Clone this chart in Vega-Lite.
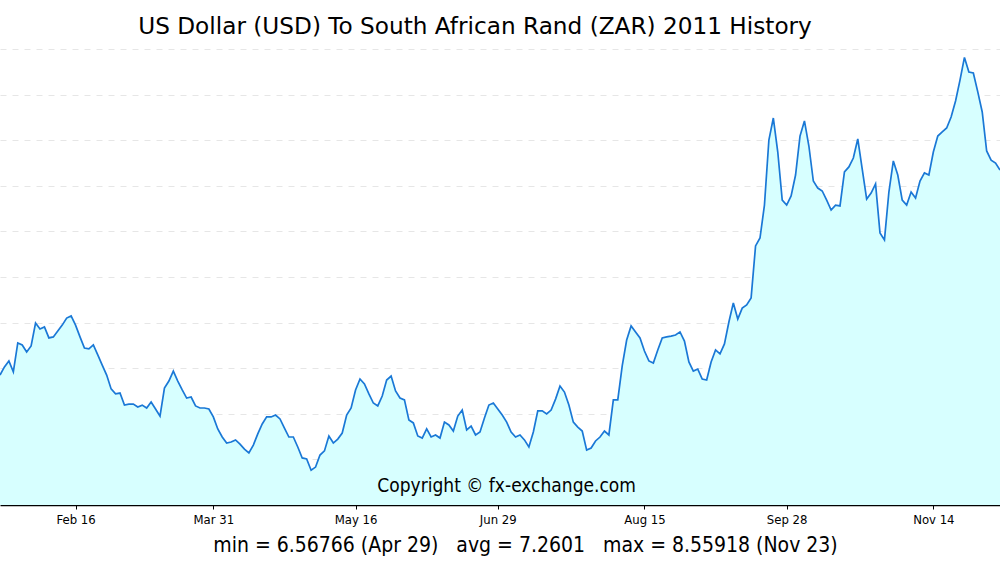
{
  "$schema": "https://vega.github.io/schema/vega-lite/v6.json",
  "autosize": {"type": "none"},
  "width": 1000,
  "height": 456,
  "padding": {"left": 0, "right": 0, "top": 49, "bottom": 57},
  "background": "white",
  "config": {"view": {"stroke": null}},
  "title": {
    "text": "US Dollar (USD) To South African Rand (ZAR) 2011 History",
    "font": "DejaVu Sans",
    "fontSize": 23.2,
    "fontWeight": "normal",
    "color": "#000000",
    "anchor": "middle",
    "dx": -25,
    "offset": 10
  },
  "datasets": {
    "rates": [
      {"d":"2011-01-24","v":7.027},{"d":"2011-01-25","v":7.066},{"d":"2011-01-26","v":7.095},{"d":"2011-01-27","v":7.042},{"d":"2011-01-28","v":7.182},
      {"d":"2011-01-31","v":7.172},{"d":"2011-02-01","v":7.138},{"d":"2011-02-02","v":7.167},{"d":"2011-02-03","v":7.278},{"d":"2011-02-04","v":7.249},
      {"d":"2011-02-07","v":7.259},{"d":"2011-02-08","v":7.206},{"d":"2011-02-09","v":7.211},{"d":"2011-02-10","v":7.239},{"d":"2011-02-11","v":7.268},
      {"d":"2011-02-14","v":7.302},{"d":"2011-02-15","v":7.312},{"d":"2011-02-16","v":7.268},{"d":"2011-02-17","v":7.211},{"d":"2011-02-18","v":7.157},
      {"d":"2011-02-21","v":7.153},{"d":"2011-02-22","v":7.172},{"d":"2011-02-23","v":7.124},{"d":"2011-02-24","v":7.075},{"d":"2011-02-25","v":7.027},
      {"d":"2011-02-28","v":6.960},{"d":"2011-03-01","v":6.936},{"d":"2011-03-02","v":6.940},{"d":"2011-03-03","v":6.882},{"d":"2011-03-04","v":6.887},
      {"d":"2011-03-07","v":6.887},{"d":"2011-03-08","v":6.873},{"d":"2011-03-09","v":6.882},{"d":"2011-03-10","v":6.868},{"d":"2011-03-11","v":6.897},
      {"d":"2011-03-14","v":6.863},{"d":"2011-03-15","v":6.829},{"d":"2011-03-16","v":6.964},{"d":"2011-03-17","v":6.998},{"d":"2011-03-18","v":7.046},
      {"d":"2011-03-21","v":6.998},{"d":"2011-03-22","v":6.955},{"d":"2011-03-23","v":6.916},{"d":"2011-03-24","v":6.921},{"d":"2011-03-25","v":6.878},
      {"d":"2011-03-28","v":6.868},{"d":"2011-03-29","v":6.868},{"d":"2011-03-30","v":6.863},{"d":"2011-03-31","v":6.825},{"d":"2011-04-01","v":6.767},
      {"d":"2011-04-04","v":6.728},{"d":"2011-04-05","v":6.699},{"d":"2011-04-06","v":6.704},{"d":"2011-04-07","v":6.714},{"d":"2011-04-08","v":6.694},
      {"d":"2011-04-11","v":6.670},{"d":"2011-04-12","v":6.651},{"d":"2011-04-13","v":6.689},{"d":"2011-04-14","v":6.743},{"d":"2011-04-15","v":6.791},
      {"d":"2011-04-18","v":6.825},{"d":"2011-04-19","v":6.825},{"d":"2011-04-20","v":6.834},{"d":"2011-04-21","v":6.815},{"d":"2011-04-22","v":6.771},
      {"d":"2011-04-25","v":6.728},{"d":"2011-04-26","v":6.728},{"d":"2011-04-27","v":6.680},{"d":"2011-04-28","v":6.627},{"d":"2011-04-29","v":6.622},
      {"d":"2011-05-02","v":6.56766},{"d":"2011-05-03","v":6.583},{"d":"2011-05-04","v":6.641},{"d":"2011-05-05","v":6.661},{"d":"2011-05-06","v":6.733},
      {"d":"2011-05-09","v":6.699},{"d":"2011-05-10","v":6.718},{"d":"2011-05-11","v":6.747},{"d":"2011-05-12","v":6.834},{"d":"2011-05-13","v":6.868},
      {"d":"2011-05-16","v":6.955},{"d":"2011-05-17","v":7.008},{"d":"2011-05-18","v":6.984},{"d":"2011-05-19","v":6.936},{"d":"2011-05-20","v":6.892},
      {"d":"2011-05-23","v":6.878},{"d":"2011-05-24","v":6.926},{"d":"2011-05-25","v":7.003},{"d":"2011-05-26","v":7.022},{"d":"2011-05-27","v":6.950},
      {"d":"2011-05-30","v":6.916},{"d":"2011-05-31","v":6.907},{"d":"2011-06-01","v":6.810},{"d":"2011-06-02","v":6.796},{"d":"2011-06-03","v":6.733},
      {"d":"2011-06-06","v":6.723},{"d":"2011-06-07","v":6.767},{"d":"2011-06-08","v":6.728},{"d":"2011-06-09","v":6.738},{"d":"2011-06-10","v":6.723},
      {"d":"2011-06-13","v":6.800},{"d":"2011-06-14","v":6.786},{"d":"2011-06-15","v":6.757},{"d":"2011-06-16","v":6.829},{"d":"2011-06-17","v":6.858},
      {"d":"2011-06-20","v":6.762},{"d":"2011-06-21","v":6.781},{"d":"2011-06-22","v":6.738},{"d":"2011-06-23","v":6.752},{"d":"2011-06-24","v":6.820},
      {"d":"2011-06-27","v":6.882},{"d":"2011-06-28","v":6.892},{"d":"2011-06-29","v":6.863},{"d":"2011-06-30","v":6.834},{"d":"2011-07-01","v":6.800},
      {"d":"2011-07-04","v":6.752},{"d":"2011-07-05","v":6.728},{"d":"2011-07-06","v":6.738},{"d":"2011-07-07","v":6.714},{"d":"2011-07-08","v":6.680},
      {"d":"2011-07-11","v":6.752},{"d":"2011-07-12","v":6.854},{"d":"2011-07-13","v":6.854},{"d":"2011-07-14","v":6.839},{"d":"2011-07-15","v":6.858},
      {"d":"2011-07-18","v":6.911},{"d":"2011-07-19","v":6.974},{"d":"2011-07-20","v":6.945},{"d":"2011-07-21","v":6.882},{"d":"2011-07-22","v":6.800},
      {"d":"2011-07-25","v":6.776},{"d":"2011-07-26","v":6.757},{"d":"2011-07-27","v":6.665},{"d":"2011-07-28","v":6.675},{"d":"2011-07-29","v":6.709},
      {"d":"2011-08-01","v":6.728},{"d":"2011-08-02","v":6.757},{"d":"2011-08-03","v":6.738},{"d":"2011-08-04","v":6.907},{"d":"2011-08-05","v":6.907},
      {"d":"2011-08-08","v":7.071},{"d":"2011-08-09","v":7.196},{"d":"2011-08-10","v":7.264},{"d":"2011-08-11","v":7.235},{"d":"2011-08-12","v":7.206},
      {"d":"2011-08-15","v":7.143},{"d":"2011-08-16","v":7.095},{"d":"2011-08-17","v":7.085},{"d":"2011-08-18","v":7.148},{"d":"2011-08-19","v":7.206},
      {"d":"2011-08-22","v":7.211},{"d":"2011-08-23","v":7.215},{"d":"2011-08-24","v":7.220},{"d":"2011-08-25","v":7.235},{"d":"2011-08-26","v":7.191},
      {"d":"2011-08-29","v":7.090},{"d":"2011-08-30","v":7.046},{"d":"2011-08-31","v":7.056},{"d":"2011-09-01","v":7.008},{"d":"2011-09-02","v":7.003},
      {"d":"2011-09-05","v":7.090},{"d":"2011-09-06","v":7.148},{"d":"2011-09-07","v":7.129},{"d":"2011-09-08","v":7.177},{"d":"2011-09-09","v":7.283},
      {"d":"2011-09-12","v":7.375},{"d":"2011-09-13","v":7.297},{"d":"2011-09-14","v":7.350},{"d":"2011-09-15","v":7.365},{"d":"2011-09-16","v":7.399},
      {"d":"2011-09-19","v":7.650},{"d":"2011-09-20","v":7.688},{"d":"2011-09-21","v":7.847},{"d":"2011-09-22","v":8.161},{"d":"2011-09-23","v":8.267},
      {"d":"2011-09-26","v":8.103},{"d":"2011-09-27","v":7.871},{"d":"2011-09-28","v":7.847},{"d":"2011-09-29","v":7.891},{"d":"2011-09-30","v":7.992},
      {"d":"2011-10-03","v":8.180},{"d":"2011-10-04","v":8.253},{"d":"2011-10-05","v":8.132},{"d":"2011-10-06","v":7.963},{"d":"2011-10-07","v":7.929},
      {"d":"2011-10-10","v":7.915},{"d":"2011-10-11","v":7.871},{"d":"2011-10-12","v":7.823},{"d":"2011-10-13","v":7.847},{"d":"2011-10-14","v":7.843},
      {"d":"2011-10-17","v":8.007},{"d":"2011-10-18","v":8.031},{"d":"2011-10-19","v":8.074},{"d":"2011-10-20","v":8.166},{"d":"2011-10-21","v":8.021},
      {"d":"2011-10-24","v":7.876},{"d":"2011-10-25","v":7.905},{"d":"2011-10-26","v":7.949},{"d":"2011-10-27","v":7.712},{"d":"2011-10-28","v":7.679},
      {"d":"2011-10-31","v":7.910},{"d":"2011-11-01","v":8.060},{"d":"2011-11-02","v":7.992},{"d":"2011-11-03","v":7.871},{"d":"2011-11-04","v":7.847},
      {"d":"2011-11-07","v":7.910},{"d":"2011-11-08","v":7.881},{"d":"2011-11-09","v":7.963},{"d":"2011-11-10","v":8.002},{"d":"2011-11-11","v":7.992},
      {"d":"2011-11-14","v":8.103},{"d":"2011-11-15","v":8.180},{"d":"2011-11-16","v":8.200},{"d":"2011-11-17","v":8.219},{"d":"2011-11-18","v":8.272},
      {"d":"2011-11-21","v":8.349},{"d":"2011-11-22","v":8.450},{"d":"2011-11-23","v":8.55918},{"d":"2011-11-24","v":8.489},{"d":"2011-11-25","v":8.484},
      {"d":"2011-11-28","v":8.393},{"d":"2011-11-29","v":8.296},{"d":"2011-11-30","v":8.108},{"d":"2011-12-01","v":8.064},{"d":"2011-12-02","v":8.050},
      {"d":"2011-12-05","v":8.016}
    ]
  },
  "data": {"name": "rates"},
  "encoding": {
    "x": {
      "field": "d",
      "type": "ordinal",
      "scale": {"type": "point", "padding": 0},
      "axis": {
        "values": ["2011-02-16", "2011-03-31", "2011-05-16", "2011-06-29", "2011-08-15", "2011-09-28", "2011-11-14"],
        "labelExpr": "utcFormat(toDate(datum.value), '%b %d')",
        "labelAngle": 0,
        "labelFont": "DejaVu Sans Condensed",
        "labelFontSize": 13,
        "labelColor": "#000000",
        "labelPadding": 4,
        "tickColor": "#000000",
        "tickSize": 4,
        "domainColor": "#000000",
        "domainWidth": 1.5,
        "grid": false,
        "title": "min = 6.56766 (Apr 29)\u00a0\u00a0\u00a0avg = 7.2601\u00a0\u00a0\u00a0max = 8.55918 (Nov 23)",
        "titleFont": "DejaVu Sans Condensed",
        "titleFontSize": 21,
        "titleFontWeight": "normal",
        "titleColor": "#000000",
        "titlePadding": 8,
        "titleX": 525
      }
    },
    "y": {
      "field": "v",
      "type": "quantitative",
      "scale": {"domain": [6.4, 8.6], "zero": false, "nice": false},
      "axis": {
        "values": [6.62, 6.84, 7.06, 7.28, 7.5, 7.72, 7.94, 8.16, 8.38, 8.6],
        "labels": false,
        "ticks": false,
        "domain": false,
        "title": null,
        "grid": true,
        "gridColor": "#e6e6e6",
        "gridDash": [6, 6],
        "gridWidth": 1
      }
    }
  },
  "layer": [
    {"mark": {"type": "area", "color": "#d7ffff", "opacity": 1, "clip": true}},
    {"mark": {"type": "line", "color": "#1a78d6", "strokeWidth": 1.7, "clip": true}},
    {
      "data": {"values": [{"d": "2011-07-01", "v": 6.463, "label": "Copyright © fx-exchange.com"}]},
      "mark": {"type": "text", "font": "DejaVu Sans Condensed", "fontSize": 19, "align": "center", "baseline": "alphabetic", "color": "#000000"},
      "encoding": {"text": {"field": "label"}}
    }
  ]
}
